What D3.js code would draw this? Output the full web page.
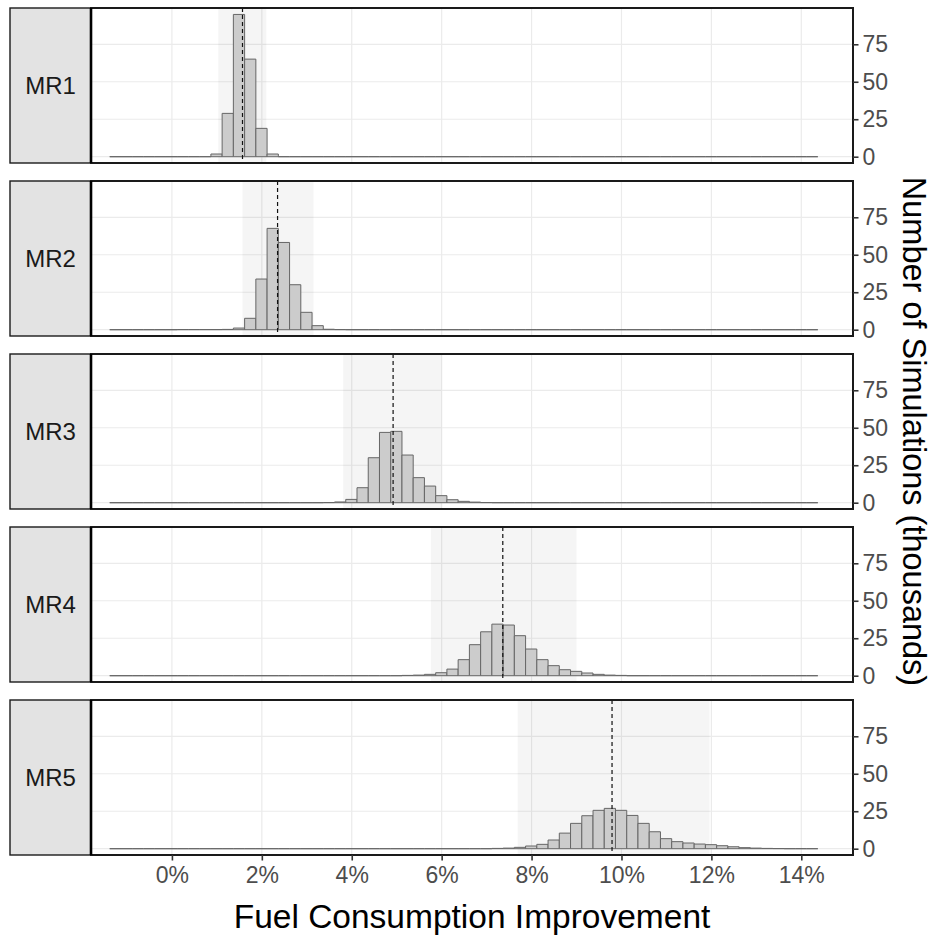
<!DOCTYPE html>
<html>
<head>
<meta charset="utf-8">
<script src="https://cdn.jsdelivr.net/npm/d3@7"></script>
<style>
  body { margin: 0; background: #fff; }
  svg { display: block; font-family: "Liberation Sans", Arial, sans-serif; }
</style>
</head>
<body>
<svg id="chart" width="933" height="939"></svg>
<script>
// Simulated fuel consumption improvement (%) per measure, histogram counts in thousands.
const panels = ["MR1", "MR2", "MR3", "MR4", "MR5"];

// Histogram bins: shared width and range across all facets.
const binOrigin = -1.383;
const binWidth = 0.25;
const binCount = 63;

// Left edge of the first listed bin and the counts from there on (thousands).
const countStarts = [0.867, 0.117, 3.367, 5.117, 7.117];
const mr1Counts = [1.8, 28.9, 94.9, 65.1, 18.9, 1.8];
const mr2Counts = [0.1, 0.1, 0.1, 0.1, 0.2, 1.1, 7.6, 33.8, 67.6, 58.2, 30.0, 11.6, 2.7, 0.3, 0.1];
const mr3Counts = [0.1, 0.5, 2.2, 10.0, 30.0, 46.9, 47.6, 31.8, 16.7, 11.1, 4.7, 2.0, 0.9, 0.4, 0.1];
const mr4Counts = [0.2, 0.4, 0.9, 2.0, 4.4, 10.7, 20.7, 29.3, 34.4, 33.8, 26.7, 17.8, 10.7, 6.7, 4.0, 2.9, 1.8, 0.9, 0.4, 0.2];
const mr5Counts = [0.2, 0.4, 0.9, 1.8, 2.9, 5.8, 10.4, 16.9, 22.0, 25.6, 26.9, 25.6, 22.2, 16.9, 11.3, 6.7, 4.7, 3.8, 3.1, 2.7, 2.0, 1.3, 0.7, 0.4, 0.2, 0.1];
const panelCounts = [mr1Counts, mr2Counts, mr3Counts, mr4Counts, mr5Counts];

// Central estimate (dashed line) and shaded interval per measure (%).
const centers = [1.57, 2.35, 4.92, 7.36, 9.79];
const bandLow = [1.03, 1.57, 3.81, 5.76, 7.69];
const bandHigh = [2.10, 3.15, 6.00, 9.00, 11.96];

const xTicks = [0, 2, 4, 6, 8, 10, 12, 14];
const yTicks = [0, 25, 50, 75];

// ---- layout ----
const svg = d3.select("#chart");
const stripLeft = 10, panelLeft = 91, panelRight = 853;
const panelTop0 = 8, panelH = 155, panelStep = 173;

const x = d3.scaleLinear().domain([-1.8, 15.15]).range([panelLeft, panelRight]);
const y = d3.scaleLinear().domain([-4.2, 99.2]).range([panelH, 0]);

function binsFor(i) {
  const start = countStarts[i];
  const counts = panelCounts[i];
  const firstIdx = Math.round((start - binOrigin) / binWidth);
  return d3.range(binCount).map(k => {
    const j = k - firstIdx;
    const v = (j >= 0 && j < counts.length) ? counts[j] : 0;
    return { x0: binOrigin + k * binWidth, x1: binOrigin + (k + 1) * binWidth, n: v };
  });
}

panels.forEach((name, i) => {
  const top = panelTop0 + i * panelStep;
  const g = svg.append("g").attr("transform", `translate(0,${top})`);
  const clipId = "clip" + i;
  g.append("clipPath").attr("id", clipId)
    .append("rect").attr("x", panelLeft).attr("y", 0)
    .attr("width", panelRight - panelLeft).attr("height", panelH);

  const body = g.append("g").attr("clip-path", `url(#${clipId})`);

  // gridlines
  body.selectAll("line.vg").data(xTicks).join("line")
    .attr("x1", d => x(d)).attr("x2", d => x(d))
    .attr("y1", 0).attr("y2", panelH)
    .attr("stroke", "#ebebeb").attr("stroke-width", 1.2);
  body.selectAll("line.hg").data(yTicks).join("line")
    .attr("x1", panelLeft).attr("x2", panelRight)
    .attr("y1", d => y(d)).attr("y2", d => y(d))
    .attr("stroke", "#ebebeb").attr("stroke-width", 1.2);

  // shaded interval
  body.append("rect")
    .attr("x", x(bandLow[i])).attr("y", 0)
    .attr("width", x(bandHigh[i]) - x(bandLow[i])).attr("height", panelH)
    .attr("fill", "#000").attr("fill-opacity", 0.04);

  // histogram bars (paths so empty bins still show as a flat outline)
  body.selectAll("path.bar").data(binsFor(i)).join("path")
    .attr("d", d => {
      const p = d3.path();
      p.moveTo(x(d.x0), y(0));
      p.lineTo(x(d.x0), y(d.n));
      p.lineTo(x(d.x1), y(d.n));
      p.lineTo(x(d.x1), y(0));
      p.closePath();
      return p.toString();
    })
    .attr("fill", "#cccccc")
    .attr("stroke", "#666666")
    .attr("stroke-width", 1);

  // central estimate
  body.append("line")
    .attr("x1", x(centers[i])).attr("x2", x(centers[i]))
    .attr("y1", 0).attr("y2", panelH)
    .attr("stroke", "#111").attr("stroke-width", 1.2)
    .attr("stroke-dasharray", "4,3");

  // panel border
  g.append("rect")
    .attr("x", panelLeft).attr("y", 0)
    .attr("width", panelRight - panelLeft).attr("height", panelH)
    .attr("fill", "none").attr("stroke", "#1a1a1a").attr("stroke-width", 2);

  // strip
  g.append("rect")
    .attr("x", stripLeft).attr("y", 0)
    .attr("width", panelLeft - stripLeft).attr("height", panelH)
    .attr("fill", "#e3e3e3").attr("stroke", "#1a1a1a").attr("stroke-width", 1.4);
  g.append("line")
    .attr("x1", panelLeft).attr("x2", panelLeft).attr("y1", 0).attr("y2", panelH)
    .attr("stroke", "#000").attr("stroke-width", 2.6);
  g.append("text")
    .attr("x", (stripLeft + panelLeft) / 2).attr("y", panelH / 2)
    .attr("text-anchor", "middle").attr("dominant-baseline", "central")
    .attr("font-size", 24).attr("fill", "#1a1a1a")
    .text(name);

  // right y axis
  const ya = g.append("g").attr("transform", `translate(${panelRight},0)`)
    .call(d3.axisRight(y).tickValues(yTicks).tickSize(5.5).tickPadding(4));
  ya.select(".domain").remove();
  ya.selectAll(".tick line").attr("stroke", "#333").attr("stroke-width", 1.6);
  ya.selectAll(".tick text").attr("font-size", 23).attr("fill", "#4d4d4d")
    .attr("font-family", "Liberation Sans, Arial, sans-serif");
});

// bottom x axis
const bottom = panelTop0 + 4 * panelStep + panelH;
const xa = svg.append("g").attr("transform", `translate(0,${bottom})`)
  .call(d3.axisBottom(x).tickValues(xTicks).tickFormat(d => d + "%").tickSize(5.5).tickPadding(6));
xa.select(".domain").remove();
xa.selectAll(".tick line").attr("stroke", "#333").attr("stroke-width", 1.6);
xa.selectAll(".tick text").attr("font-size", 23).attr("fill", "#4d4d4d")
  .attr("font-family", "Liberation Sans, Arial, sans-serif");

// axis titles
svg.append("text")
  .attr("x", (panelLeft + panelRight) / 2).attr("y", 928)
  .attr("text-anchor", "middle").attr("font-size", 33.5).attr("fill", "#000")
  .text("Fuel Consumption Improvement");

svg.append("text")
  .attr("transform", `translate(903,${panelTop0 + (4 * panelStep + panelH) / 2}) rotate(90)`)
  .attr("text-anchor", "middle").attr("font-size", 32.5).attr("fill", "#000")
  .text("Number of Simulations (thousands)");
</script>
</body>
</html>
